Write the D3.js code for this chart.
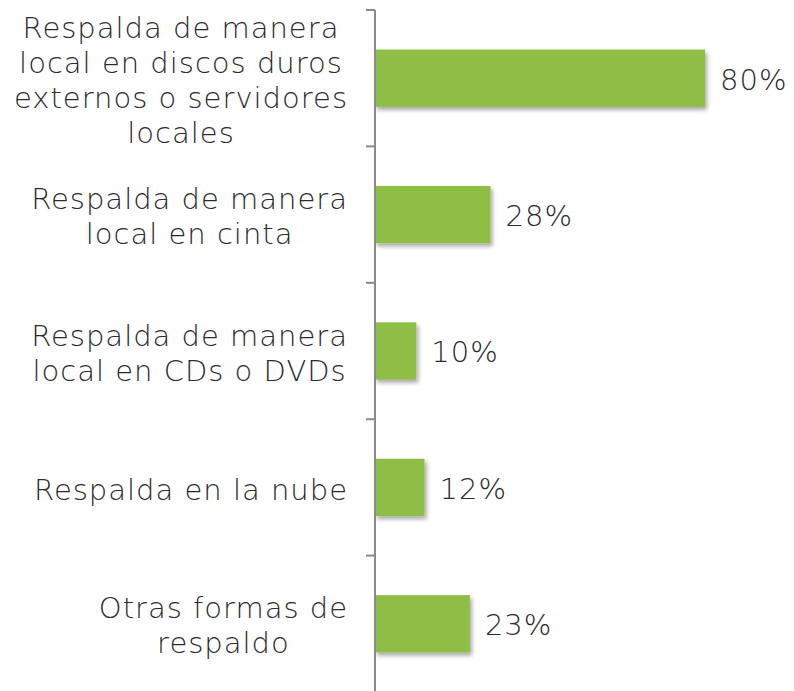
<!DOCTYPE html>
<html>
<head>
<meta charset="utf-8">
<script src="https://cdn.jsdelivr.net/npm/d3@7"></script>
<style>
  body { margin: 0; background: #fff; }
  text { font-family: "DejaVu Sans", sans-serif; font-weight: 200; fill: #2b2b2b; letter-spacing: 1px; }
</style>
</head>
<body>
<div id="chart"></div>
<script>
// data
var categories = [
  "Respalda de manera local en discos duros externos o servidores locales",
  "Respalda de manera local en cinta",
  "Respalda de manera local en CDs o DVDs",
  "Respalda en la nube",
  "Otras formas de respaldo"
];
var labelLines = [
  ["Respalda de manera", "local en discos duros", "externos o servidores", "locales"],
  ["Respalda de manera", "local en cinta"],
  ["Respalda de manera", "local en CDs o DVDs"],
  ["Respalda en la nube"],
  ["Otras formas de", "respaldo"]
];
var values = [80, 28, 10, 12, 23];

var width = 794, height = 691;
var axisX = 375;

var svg = d3.select("#chart").append("svg")
    .attr("width", width)
    .attr("height", height);

var defs = svg.append("defs");
var f = defs.append("filter").attr("id", "shadow")
    .attr("x", "-10%").attr("y", "-20%").attr("width", "130%").attr("height", "160%");
f.append("feDropShadow").attr("dx", 2).attr("dy", 3).attr("stdDeviation", 2)
    .attr("flood-color", "#000").attr("flood-opacity", 0.35);

var y = d3.scaleBand()
    .domain(categories)
    .range([10, 692])
    .paddingInner(0.58)
    .paddingOuter(0.29);

var x = d3.scaleLinear()
    .domain([0, 80])
    .range([axisX, 705]);

// bars
svg.selectAll("rect.bar")
    .data(categories)
    .enter().append("rect")
    .attr("class", "bar")
    .attr("x", x(0))
    .attr("y", function(d){ return y(d); })
    .attr("width", function(d, i){ return x(values[i]) - x(0); })
    .attr("height", y.bandwidth())
    .attr("fill", "#8fbe46")
    .attr("filter", "url(#shadow)");

// axis line and boundary ticks
var step = y.step();
var bounds = d3.range(categories.length + 1).map(function(i){ return 10 + i * step; });
svg.append("line")
    .attr("x1", axisX).attr("x2", axisX)
    .attr("y1", 10).attr("y2", height)
    .attr("stroke", "#8a8a8a").attr("stroke-width", 2);
svg.selectAll("line.tick")
    .data(bounds)
    .enter().append("line")
    .attr("class", "tick")
    .attr("x1", axisX - 9).attr("x2", axisX)
    .attr("y1", function(d){ return d; }).attr("y2", function(d){ return d; })
    .attr("stroke", "#8a8a8a").attr("stroke-width", 2);

// category labels, centred as a block whose widest line ends at 348
var lineH = 35;
var labels = svg.selectAll("text.cat")
    .data(categories)
    .enter().append("text")
    .attr("class", "cat")
    .attr("text-anchor", "middle")
    .attr("font-size", 29);
labels.each(function(d, i){
    var lines = labelLines[i];
    var cy = y(d) + y.bandwidth() / 2;
    var top = cy - (lines.length - 1) * lineH / 2;
    var t = d3.select(this);
    var spans = t.selectAll("tspan")
        .data(lines)
        .enter().append("tspan")
        .attr("y", function(l, j){ return top + j * lineH; })
        .attr("dy", "0.42em")
        .text(function(l){ return l; });
    var maxW = 0;
    spans.each(function(){ maxW = Math.max(maxW, this.getComputedTextLength()); });
    spans.attr("x", 348 - maxW / 2);
});

// value labels
svg.selectAll("text.val")
    .data(categories)
    .enter().append("text")
    .attr("class", "val")
    .attr("x", function(d, i){ return x(values[i]) + 15; })
    .attr("y", function(d){ return y(d) + y.bandwidth() / 2; })
    .attr("dy", "0.39em")
    .attr("font-size", 29)
    .text(function(d, i){ return values[i] + "%"; });
</script>
</body>
</html>
